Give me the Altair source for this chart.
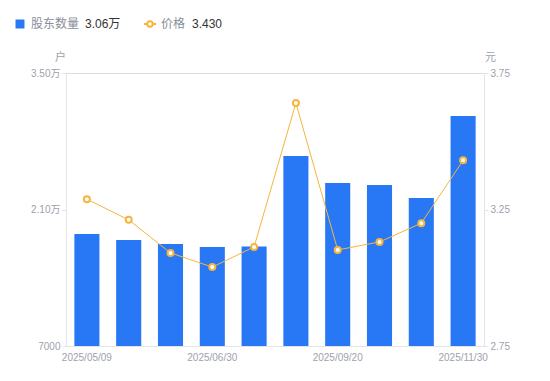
import altair as alt
import pandas as pd

dates = ["2025/05/09", "2025/05/20", "2025/06/10", "2025/06/30", "2025/07/31",
         "2025/08/31", "2025/09/20", "2025/10/10", "2025/10/31", "2025/11/30"]
holders = [18490, 17870, 17460, 17150, 17200, 26490, 23720, 23510, 22180, 30600]
price = [3.288, 3.212, 3.091, 3.039, 3.113, 3.640, 3.102, 3.131, 3.200, 3.430]
shown_dates = ["2025/05/09", "2025/06/30", "2025/09/20", "2025/11/30"]
left_ticks = [7000, 21000, 35000]
right_ticks = [2.75, 3.25, 3.75]

df = pd.DataFrame({"date": dates, "holders": holders, "price": price})

FONT = "Liberation Sans, Noto Sans CJK SC, sans-serif"
BLUE = "#2878F5"
ORANGE = "#F7B53D"
GRAY = "#9EA1AC"
AXIS_LINE = "#E3E4E8"

shown_js = "[" + ",".join("'" + d + "'" for d in shown_dates) + "]"
xenc = alt.X("date:N", sort=dates, title=None,
             scale=alt.Scale(paddingInner=0.4, paddingOuter=0.2),
             axis=alt.Axis(labelAngle=0, labelExpr=f"indexof({shown_js}, datum.value) >= 0 ? datum.value : ''",
                           ticks=False, domainColor=AXIS_LINE, labelColor=GRAY,
                           labelFontSize=10, labelPadding=6, labelFont=FONT))

bars = alt.Chart(df).mark_bar(color=BLUE, clip=True).encode(
    x=xenc,
    y=alt.Y("holders:Q", scale=alt.Scale(domain=[7000, 35000], nice=False, zero=False),
            axis=alt.Axis(values=left_ticks, orient="left", title="户", titleAngle=0,
                          titleX=-6, titleY=-16, titleAlign="center", titleBaseline="middle",
                          titleColor=GRAY, titleFontWeight="normal", titleFontSize=11, titleFont=FONT,
                          labelExpr="datum.value < 10000 ? format(datum.value, 'd') : format(datum.value/10000, '.2f') + '万'",
                          grid=False, domainColor=AXIS_LINE, tickColor=AXIS_LINE, tickSize=4,
                          labelColor=GRAY, labelFontSize=10, labelFont=FONT, labelPadding=2)),
    y2=alt.datum(7000),
)

line = alt.Chart(df).mark_line(color=ORANGE, strokeWidth=1,
                               point=alt.OverlayMarkDef(filled=False, fill="white", stroke=ORANGE,
                                                        size=36, strokeWidth=2, opacity=1)).encode(
    x=alt.X("date:N", sort=dates),
    y=alt.Y("price:Q", scale=alt.Scale(domain=[2.75, 3.75], nice=False, zero=False),
            axis=alt.Axis(values=right_ticks, orient="right", format=".2f", title="元", titleAngle=0,
                          titleX=6, titleY=-16, titleAlign="center", titleBaseline="middle",
                          titleColor=GRAY, titleFontWeight="normal", titleFontSize=11, titleFont=FONT,
                          grid=False, domainColor=AXIS_LINE, tickColor=AXIS_LINE, tickSize=4,
                          labelColor=GRAY, labelFontSize=10, labelFont=FONT, labelPadding=2)),
)

one = pd.DataFrame({"k": [0]})
leg_sq = alt.Chart(one).mark_square(color=BLUE, size=80, opacity=1).encode(
    x=alt.value(-46), y=alt.value(-49))
leg_t1 = alt.Chart(one).mark_text(text="股东数量", align="left", baseline="middle",
                                  fontSize=12, color="#8A8E99", font=FONT).encode(
    x=alt.value(-35), y=alt.value(-49))
leg_v1 = alt.Chart(one).mark_text(text="3.06万", align="left", baseline="middle",
                                  fontSize=12, color="#333333", font=FONT).encode(
    x=alt.value(19), y=alt.value(-49))
leg_ln = alt.Chart(one).mark_rule(color=ORANGE, strokeWidth=2).encode(
    x=alt.value(78), x2=alt.value(90), y=alt.value(-49))
leg_pt = alt.Chart(one).mark_point(filled=False, fill="white", stroke=ORANGE, size=30,
                                   strokeWidth=2, opacity=1).encode(
    x=alt.value(84), y=alt.value(-49))
leg_t2 = alt.Chart(one).mark_text(text="价格", align="left", baseline="middle",
                                  fontSize=12, color="#8A8E99", font=FONT).encode(
    x=alt.value(95), y=alt.value(-49))
leg_v2 = alt.Chart(one).mark_text(text="3.430", align="left", baseline="middle",
                                  fontSize=12, color="#333333", font=FONT).encode(
    x=alt.value(126), y=alt.value(-49))

chart = alt.layer(bars, line, leg_sq, leg_t1, leg_v1, leg_ln, leg_pt, leg_t2, leg_v2).resolve_scale(
    y="independent"
).properties(
    width=418, height=273,
    autosize=alt.AutoSizeParams(type="none"),
    padding={"left": 58, "top": 65, "right": 58, "bottom": 27},
).configure_view(stroke=None).configure(background="white")

chart.save("out.html", embed_options={"renderer": "svg", "actions": False})
